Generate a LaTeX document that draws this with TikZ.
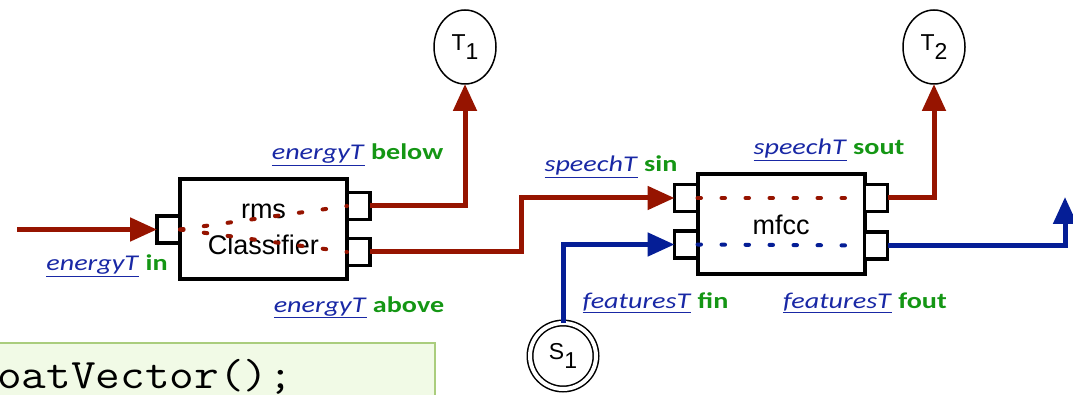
\documentclass[tikz,border=0pt]{standalone}
\usepackage{fontspec}
\setmainfont{Liberation Sans}
\newfontfamily\lblfamily[FakeStretch=1.25]{Carlito}
\newfontfamily\codefamily[FakeStretch=1.14]{Latin Modern Mono}
\usetikzlibrary{arrows.meta,positioning,calc,shapes.geometric}

\definecolor{flowred}{RGB}{150,20,0}
\definecolor{flowblue}{RGB}{5,30,150}
\definecolor{typeblue}{RGB}{25,40,165}
\definecolor{portgreen}{RGB}{20,150,20}
\definecolor{codefill}{RGB}{241,250,230}
\definecolor{codeline}{RGB}{170,205,125}

\newcommand{\blockfont}{\fontsize{27}{36}\selectfont}
\newcommand{\termfont}{\fontsize{23}{23}\selectfont}
\newcommand{\portlbl}[2]{{\lblfamily\fontsize{22.5}{24}\selectfont\textcolor{typeblue}{\underline{\textit{#1}}} \textcolor{portgreen}{\textbf{#2}}}}

\begin{document}
\begin{tikzpicture}[x=1pt, y=-1pt,
  filter/.style={draw, line width=4pt, fill=white, minimum width=167pt, minimum height=100pt, outer sep=0pt, align=center, font=\blockfont},
  port/.style={draw, line width=3.5pt, fill=white, minimum width=23pt, minimum height=27pt, inner sep=0pt, outer sep=0pt},
  term/.style={draw, ellipse, line width=1.5pt, minimum width=62pt, minimum height=74pt, inner sep=0pt, outer sep=0pt, font=\termfont},
  source/.style={draw, circle, double, double distance=4pt, line width=1.5pt, minimum size=66pt, inner sep=0pt, outer sep=0pt, font=\termfont},
  flowr/.style={draw=flowred, line width=5pt, -{Triangle[length=27pt,width=23pt]}},
  flowb/.style={draw=flowblue, line width=5pt, -{Triangle[length=27pt,width=23pt]}},
  dotr/.style={draw=flowred, line width=4pt, line cap=round, dash pattern=on 3.5pt off 20.5pt},
  dotb/.style={draw=flowblue, line width=4pt, line cap=round, dash pattern=on 3.5pt off 20.5pt},
  lbl/.style={anchor=base, inner sep=0pt}]
\useasboundingbox (0,0) rectangle (1073,395);

% code snippet in the corner
\draw[fill=codefill, draw=codeline, line width=2pt] (-20,343) rectangle (435,420);
\node[anchor=base west, inner sep=0pt, font=\codefamily\fontsize{42}{42}\selectfont] (code) at (-3,388) {oatVector();};

% filters
\node[filter] (cls) at (263.5,229.5) {rms\\Classifier};
\node[filter] (mfcc) at (781,224.5) {mfcc};

% ports
\node[port, anchor=east] (cin) at ($(cls.west)+(0,0)$) {};
\node[port, anchor=west] (cabove) at ($(cls.east)+(0,-23.5)$) {};
\node[port, anchor=west] (cbelow) at ($(cls.east)+(0,22.5)$) {};
\node[port, anchor=east] (sin) at ($(mfcc.west)+(0,-26.5)$) {};
\node[port, anchor=east] (fin) at ($(mfcc.west)+(0,20)$) {};
\node[port, anchor=west] (sout) at ($(mfcc.east)+(0,-26.5)$) {};
\node[port, anchor=west] (fout) at ($(mfcc.east)+(0,21)$) {};

% terminals and source
\node[term] (t1) at (465,47) {T\raisebox{-9pt}{1}};
\node[term] (t2) at (934,47) {T\raisebox{-9pt}{2}};
\node[source] (s1) at (563,356) {S\raisebox{-9pt}{1}};

\coordinate (src) at (17,229.5);
\coordinate (jn) at (521,225);
\coordinate (sink) at (1065,197);

% internal routes
\draw[dotr] (cin.east) -- (cabove.west);
\draw[dotr] (cin.east) -- (cbelow.west);
\draw[dotr] (sin.east) -- (sout.west);
\draw[dotb] (fin.east) -- (fout.west);

% connectors
\draw[flowr] (src) -- (cin.west);
\draw[flowr] (cabove.east) -| (t1.south);
\draw[flowr] (cbelow.east) -| (jn) |- (sin.west);
\draw[flowr] (sout.east) -| (t2.south);
\draw[flowb] (s1.north) |- (fin.west);
\draw[flowb] (fout.east) -| (sink);

% port labels
\node[lbl] (lin) at (107,271) {\portlbl{energyT}{in}};
\node[lbl] (lbelow) at (357.5,160) {\portlbl{energyT}{below}};
\node[lbl] (labove) at (359,312) {\portlbl{energyT}{above}};
\node[lbl] (lsin) at (611,172) {\portlbl{speechT}{sin}};
\node[lbl] (lsout) at (829,155) {\portlbl{speechT}{sout}};
\node[lbl] (lfin) at (655.5,308) {\portlbl{featuresT}{fin}};
\node[lbl] (lfout) at (865,308) {\portlbl{featuresT}{fout}};
\end{tikzpicture}
\end{document}
